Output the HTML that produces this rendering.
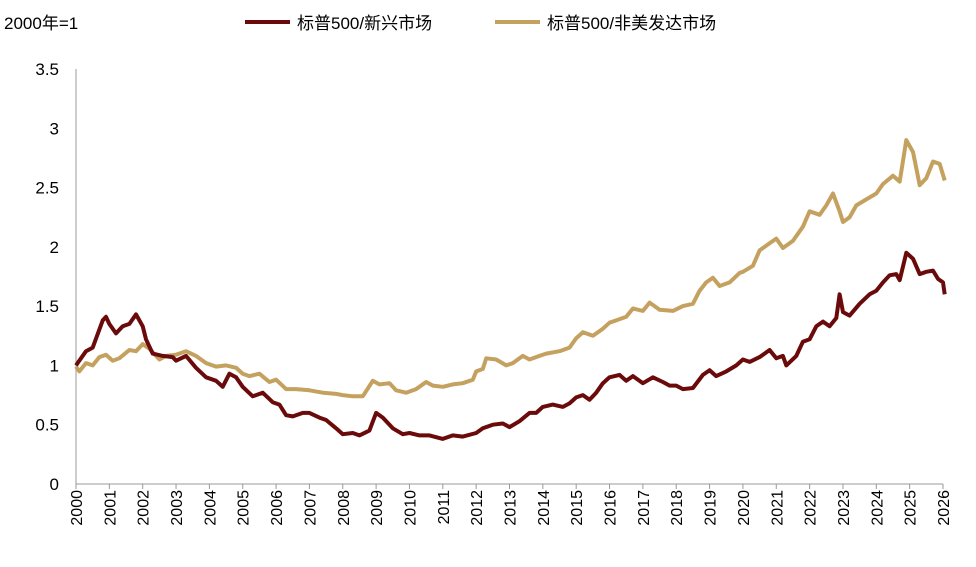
<!DOCTYPE html>
<html><head><meta charset="utf-8"><style>
body{margin:0;background:#fff;}
svg text{font-family:"Liberation Sans","Noto Sans CJK SC",sans-serif;fill:#000;}
</style></head><body>
<svg id="chart" width="976" height="562" xmlns="http://www.w3.org/2000/svg">
<text x="4" y="29" font-size="17">2000年=1</text>
<g>
<line x1="245" y1="22" x2="290" y2="22" stroke="#6b0a0a" stroke-width="4"/>
<text x="297" y="29" font-size="17">标普500/新兴市场</text>
<line x1="495" y1="22" x2="540" y2="22" stroke="#c4a15f" stroke-width="4"/>
<text x="547" y="29" font-size="17">标普500/非美发达市场</text>
</g>
<g id="axes"></g>
<g id="series"></g>
</svg>
<script>
const yTicks=[0,0.5,1,1.5,2,2.5,3,3.5];
const yTickLabels=["0","0.5","1","1.5","2","2.5","3","3.5"];
const xYears=[2000,2001,2002,2003,2004,2005,2006,2007,2008,2009,2010,2011,2012,2013,2014,2015,2016,2017,2018,2019,2020,2021,2022,2023,2024,2025,2026];
const emDates=[2000.0,2000.3,2000.5,2000.8,2000.9,2001.0,2001.2,2001.4,2001.6,2001.8,2001.9,2002.0,2002.1,2002.3,2002.6,2002.9,2003.0,2003.3,2003.6,2003.9,2004.2,2004.4,2004.6,2004.8,2005.0,2005.3,2005.6,2005.9,2006.1,2006.3,2006.5,2006.8,2007.0,2007.3,2007.5,2007.8,2008.0,2008.3,2008.5,2008.8,2009.0,2009.2,2009.5,2009.8,2010.0,2010.3,2010.6,2011.0,2011.3,2011.6,2012.0,2012.2,2012.5,2012.8,2013.0,2013.3,2013.6,2013.8,2014.0,2014.3,2014.6,2014.8,2015.0,2015.2,2015.4,2015.6,2015.8,2016.0,2016.3,2016.5,2016.7,2017.0,2017.3,2017.6,2017.8,2018.0,2018.2,2018.5,2018.8,2019.0,2019.2,2019.5,2019.8,2020.0,2020.2,2020.5,2020.8,2021.0,2021.2,2021.3,2021.6,2021.8,2022.0,2022.2,2022.4,2022.6,2022.8,2022.9,2023.0,2023.2,2023.5,2023.8,2024.0,2024.2,2024.4,2024.6,2024.7,2024.9,2025.1,2025.3,2025.5,2025.7,2025.85,2026.0,2026.05];
const emValues=[1.0,1.12,1.15,1.38,1.41,1.35,1.27,1.33,1.35,1.43,1.38,1.33,1.22,1.1,1.08,1.07,1.04,1.08,0.98,0.9,0.87,0.82,0.93,0.9,0.82,0.74,0.77,0.69,0.67,0.58,0.57,0.6,0.6,0.56,0.54,0.47,0.42,0.43,0.41,0.45,0.6,0.56,0.47,0.42,0.43,0.41,0.41,0.38,0.41,0.4,0.43,0.47,0.5,0.51,0.48,0.53,0.6,0.6,0.65,0.67,0.65,0.68,0.73,0.75,0.71,0.77,0.85,0.9,0.92,0.87,0.91,0.85,0.9,0.86,0.83,0.83,0.8,0.81,0.92,0.96,0.91,0.95,1.0,1.05,1.03,1.07,1.13,1.06,1.08,1.0,1.08,1.2,1.22,1.33,1.37,1.33,1.4,1.6,1.45,1.42,1.52,1.6,1.63,1.7,1.76,1.77,1.72,1.95,1.9,1.77,1.79,1.8,1.73,1.7,1.6];
const dmDates=[2000.0,2000.1,2000.3,2000.5,2000.7,2000.9,2001.1,2001.3,2001.6,2001.8,2002.0,2002.2,2002.5,2002.7,2003.0,2003.3,2003.6,2003.9,2004.2,2004.5,2004.8,2005.0,2005.2,2005.5,2005.8,2006.0,2006.3,2006.6,2007.0,2007.4,2007.8,2008.0,2008.3,2008.6,2008.9,2009.1,2009.4,2009.6,2009.9,2010.2,2010.5,2010.7,2011.0,2011.3,2011.6,2011.9,2012.0,2012.2,2012.3,2012.6,2012.9,2013.1,2013.4,2013.6,2013.9,2014.1,2014.5,2014.8,2015.0,2015.2,2015.5,2015.8,2016.0,2016.2,2016.5,2016.7,2017.0,2017.2,2017.5,2017.9,2018.2,2018.5,2018.7,2018.9,2019.1,2019.3,2019.6,2019.9,2020.0,2020.3,2020.5,2020.8,2021.0,2021.2,2021.5,2021.8,2022.0,2022.3,2022.5,2022.7,2022.9,2023.0,2023.2,2023.4,2023.7,2024.0,2024.2,2024.5,2024.7,2024.9,2025.1,2025.3,2025.5,2025.7,2025.9,2026.05];
const dmValues=[0.99,0.95,1.02,1.0,1.07,1.09,1.04,1.06,1.13,1.12,1.18,1.14,1.05,1.08,1.09,1.12,1.08,1.02,0.99,1.0,0.98,0.93,0.91,0.93,0.86,0.88,0.8,0.8,0.79,0.77,0.76,0.75,0.74,0.74,0.87,0.84,0.85,0.79,0.77,0.8,0.86,0.83,0.82,0.84,0.85,0.88,0.95,0.97,1.06,1.05,1.0,1.02,1.08,1.05,1.08,1.1,1.12,1.15,1.23,1.28,1.25,1.31,1.36,1.38,1.41,1.48,1.46,1.53,1.47,1.46,1.5,1.52,1.63,1.7,1.74,1.67,1.7,1.78,1.79,1.84,1.97,2.03,2.07,1.99,2.05,2.17,2.3,2.27,2.35,2.45,2.3,2.21,2.25,2.35,2.4,2.45,2.53,2.6,2.55,2.9,2.8,2.52,2.58,2.72,2.7,2.56];

const NS="http://www.w3.org/2000/svg";
const X0=76,X1=943,Y0=484,YTOP=69;
function xs(t){return X0+(t-2000)/(2026-2000)*(X1-X0);}
function ys(v){return Y0-v/3.5*(Y0-YTOP);}
function mk(tag,attrs,parent){const e=document.createElementNS(NS,tag);for(const k in attrs)e.setAttribute(k,attrs[k]);parent.appendChild(e);return e;}
const axes=document.getElementById('axes');
const ya=mk('line',{x1:X0,y1:YTOP,x2:X0,y2:Y0,stroke:'#999','stroke-width':1},axes);


const xa=mk('line',{x1:X0,y1:Y0,x2:X1,y2:Y0,stroke:'#999','stroke-width':1},axes);


yTicks.forEach((v,i)=>{
  const t=mk('text',{x:X0-17,y:ys(v)+6,'font-size':17,'text-anchor':'end'},axes);
  t.textContent=yTickLabels[i];
  
  
});
xYears.forEach(yr=>{
  const x=xs(yr);
  const tk=mk('line',{x1:x,y1:Y0,x2:x,y2:Y0+5,stroke:'#999'},axes);
  
  
  const t=mk('text',{x:0,y:0,'font-size':16,'text-anchor':'end',transform:`translate(${x+6},${Y0+6}) rotate(-90)`},axes);
  t.textContent=String(yr);
  
  
});
const series=document.getElementById('series');
function pathD(d,v){return d.map((t,i)=>(i?'L':'M')+xs(t).toFixed(1)+','+ys(v[i]).toFixed(1)).join(' ');}
const dm=mk('path',{d:pathD(dmDates,dmValues),fill:'none',stroke:'#c4a15f','stroke-width':4,'stroke-linejoin':'round'},series);


const em=mk('path',{d:pathD(emDates,emValues),fill:'none',stroke:'#6b0a0a','stroke-width':4,'stroke-linejoin':'round'},series);


</script>
</body></html>
